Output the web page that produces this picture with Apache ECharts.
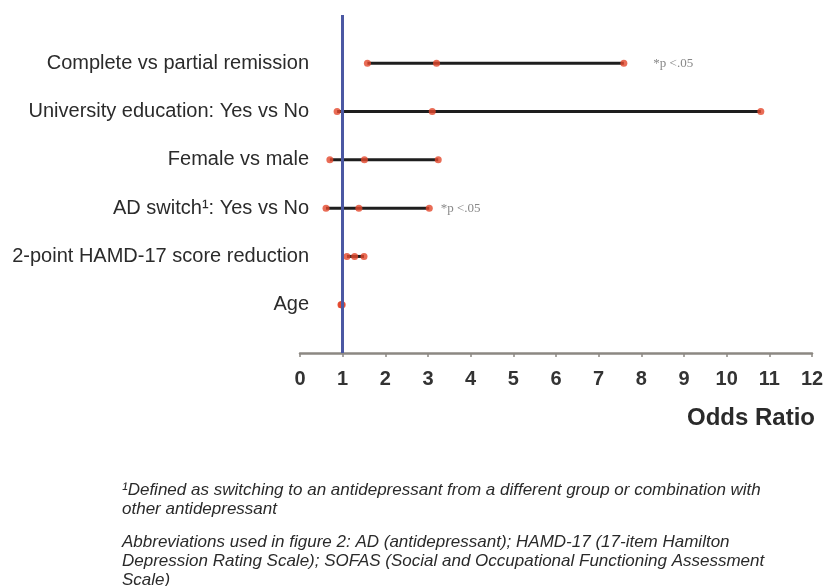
<!DOCTYPE html>
<html>
<head>
<meta charset="utf-8">
<script src="https://cdn.jsdelivr.net/npm/echarts@6/dist/echarts.min.js"></script>
<style>
  html, body { margin: 0; padding: 0; background: #fff; }
  #chart { width: 829px; height: 586px; }
</style>
</head>
<body>
<div id="chart"></div>
<script>
// ---- data (top to bottom) ----
var categories = [
  'Complete vs partial remission',
  'University education: Yes vs No',
  'Female vs male',
  'AD switch\u00b9: Yes vs No',
  '2-point HAMD-17 score reduction',
  'Age'
];
var lowerCI = [1.58, 0.87, 0.70, 0.61, 1.10, 0.96];
var oddsRatio = [3.20, 3.10, 1.51, 1.38, 1.28, 0.97];
var upperCI = [7.59, 10.80, 3.24, 3.03, 1.50, 0.99];
var notes = ['*p <.05', '', '', '*p <.05', '', ''];
var xTicks = [0, 1, 2, 3, 4, 5, 6, 7, 8, 9, 10, 11, 12];
var referenceOR = 1;
var axisTitle = 'Odds Ratio';
var footnote1 = ['\u00b9Defined as switching to an antidepressant from a different group or combination with', 'other antidepressant'];
var footnote2 = ['Abbreviations used in figure 2: AD (antidepressant); HAMD-17 (17-item Hamilton', 'Depression Rating Scale); SOFAS (Social and Occupational Functioning Assessment', 'Scale)'];

// ---- styles ----
var noteOffsets = [26, 0, 0, 8, 0, 0];
var n = categories.length;
function rowY(i) { return n - i; }

var whiskerData = categories.map(function (c, i) { return [lowerCI[i], upperCI[i], rowY(i)]; });
var pointData = [];
categories.forEach(function (c, i) {
  pointData.push({ value: [lowerCI[i], rowY(i)] });
  pointData.push({ value: [oddsRatio[i], rowY(i)] });
  var up = { value: [upperCI[i], rowY(i)] };
  if (notes[i]) {
    up.label = {
      show: true, position: 'right', distance: noteOffsets[i], formatter: notes[i],
      fontFamily: 'Liberation Serif', fontSize: 13, color: '#6a6a6a'
    };
  }
  pointData.push(up);
});

var labelMap = {};
categories.forEach(function (c, i) { labelMap[rowY(i)] = c; });

var chart = echarts.init(document.getElementById('chart'), null, { renderer: 'canvas' });
var footStyle = { fontFamily: 'Liberation Sans', fontStyle: 'italic', fontSize: 17, fill: '#2a2a2a' };
chart.setOption({
  animation: false,
  backgroundColor: '#ffffff',
  grid: { left: 300, right: 17, top: 15, bottom: 233, containLabel: false },
  xAxis: {
    type: 'value', min: xTicks[0], max: xTicks[xTicks.length - 1], interval: 1,
    splitLine: { show: false },
    axisLine: { show: true, lineStyle: { color: '#8c8882', width: 2.5 } },
    axisTick: { show: true, length: 4, lineStyle: { color: '#8c8882', width: 1.5 } },
    axisLabel: { margin: 16, fontFamily: 'Liberation Sans', fontWeight: 'bold', fontSize: 20, color: '#333' },
    name: axisTitle, nameLocation: 'end', nameGap: 3,
    nameTextStyle: { align: 'right', verticalAlign: 'top', padding: [53, 0, 0, 0],
      fontFamily: 'Liberation Sans', fontWeight: 'bold', fontSize: 24, color: '#2a2a2a' }
  },
  yAxis: {
    type: 'value', min: 0, max: n + 1, interval: 1,
    splitLine: { show: false }, axisLine: { show: false }, axisTick: { show: false },
    axisLabel: {
      margin: -9, fontFamily: 'Liberation Sans', fontWeight: 'normal', fontSize: 20, color: '#2b2b2b',
      formatter: function (v) { return labelMap[v] || ''; }
    }
  },
  series: [
    {
      type: 'custom',
      data: whiskerData,
      encode: { x: [0, 1], y: 2 },
      renderItem: function (params, api) {
        var a = api.coord([api.value(0), api.value(2)]);
        var b = api.coord([api.value(1), api.value(2)]);
        return { type: 'line', shape: { x1: a[0], y1: a[1], x2: b[0], y2: b[1] },
          style: { stroke: '#1e1e1e', lineWidth: 3 } };
      },
      markLine: {
        silent: true, symbol: 'none', label: { show: false },
        lineStyle: { color: '#4b58a3', width: 3, type: 'solid' },
        data: [{ xAxis: referenceOR }]
      },
      z: 2
    },
    {
      type: 'scatter',
      data: pointData,
      symbol: 'circle', symbolSize: 7,
      itemStyle: { color: '#e4472c' },
      z: 3
    }
  ],
  graphic: [
    { type: 'text', left: 122, top: 481, style: Object.assign({ text: footnote1.join('\n'), lineHeight: 19 }, footStyle) },
    { type: 'text', left: 122, top: 533, style: Object.assign({ text: footnote2.join('\n'), lineHeight: 19 }, footStyle) }
  ]
});
</script>
</body>
</html>
